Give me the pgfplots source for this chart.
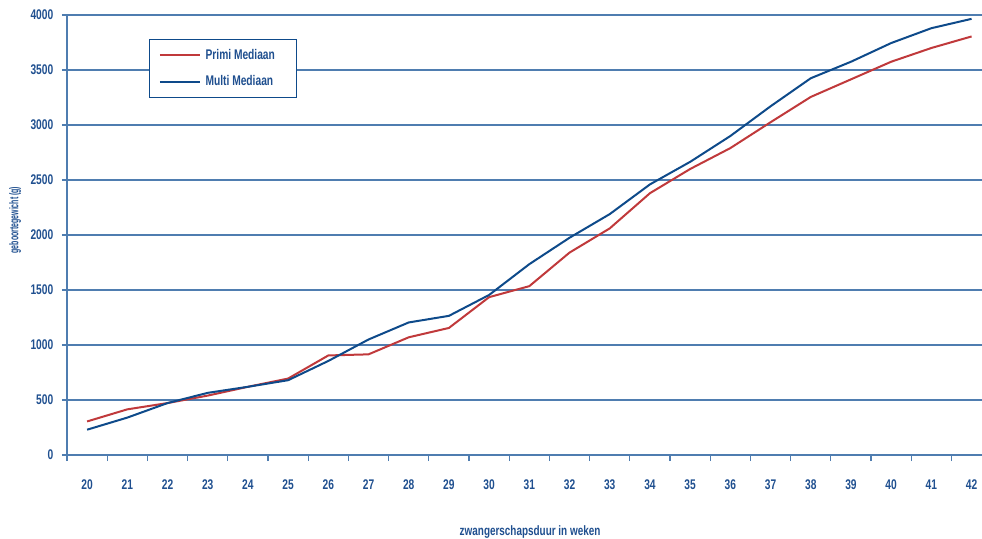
\documentclass[border=0pt]{standalone}
\usepackage{fontspec}
\setmainfont{Liberation Sans}[FakeStretch=0.73]
\newfontfamily\ylfont{Liberation Sans}[FakeStretch=0.55]
\usepackage{pgfplots}
\pgfplotsset{compat=1.18}
\definecolor{txtblue}{HTML}{1F4F8F}
\definecolor{lineblue}{HTML}{0E4A8A}
\definecolor{linered}{HTML}{C0393B}
\definecolor{gridblue}{HTML}{4F7DB0}
\begin{document}
\begin{tikzpicture}
\begin{axis}[
  at={(0,0)}, anchor=south west,
  scale only axis, width=693.5pt, height=330pt,
  xmin=19.5, xmax=42.5, ymin=0, ymax=4000,
  axis lines=left,
  axis line style={gridblue, line width=0.9pt, -},
  xtick={20,...,42},
  minor xtick={19.5,20.5,...,42.5},
  ytick={0,500,...,4000},
  tick align=outside,
  major tick length=3.75pt,
  minor tick length=4.5pt,
  major x tick style={draw=none},
  minor x tick style={gridblue, line width=0.9pt},
  major y tick style={gridblue, line width=0.9pt},
  ymajorgrids,
  major grid style={gridblue, line width=0.9pt},
  /pgf/number format/assume math mode=true,
  /pgf/number format/1000 sep={},
  ticklabel style={font=\fontsize{10.5}{12}\selectfont\bfseries, text=txtblue},
  xticklabel style={yshift=-11pt},
  yticklabel style={xshift=-3pt},
  every axis y label/.style={at={(axis description cs:-0.0562,0.534)}, rotate=90, anchor=center, font=\ylfont\fontsize{9.5}{11}\selectfont\bfseries, text=txtblue},
  every axis x label/.style={at={(axis description cs:0.5008,0)}, yshift=-57.75pt, anchor=center, font=\fontsize{10.2}{12}\selectfont\bfseries, text=txtblue},
  xlabel={zwangerschapsduur in weken},
  ylabel={geboortegewicht (g)},
  legend style={at={(axis description cs:0.0887,0.9455)}, anchor=north west,
    draw=lineblue, line width=0.9pt, fill=white,
    font=\fontsize{10.5}{12}\selectfont\bfseries, text=txtblue,
    inner xsep=7pt, inner ysep=5pt, row sep=7pt,
    nodes={inner sep=2pt}},
  legend cell align=left,
  legend image code/.code={\draw[#1] (0pt,0pt) -- (30pt,0pt);},
]
\addplot[linered, line width=1.5pt] coordinates {
(20,305) (21,415) (22,472) (23,540) (24,620) (25,695) (26,905) (27,915)
(28,1070) (29,1155) (30,1435) (31,1535) (32,1840) (33,2060) (34,2380)
(35,2600) (36,2790) (37,3025) (38,3255) (39,3415) (40,3575) (41,3700) (42,3805)};
\addlegendentry{\hspace*{1.5pt}Primi Mediaan\hspace*{7pt}}
\addplot[lineblue, line width=1.5pt] coordinates {
(20,230) (21,340) (22,472) (23,565) (24,620) (25,680) (26,855) (27,1050)
(28,1205) (29,1265) (30,1455) (31,1735) (32,1975) (33,2190) (34,2460)
(35,2665) (36,2900) (37,3170) (38,3425) (39,3575) (40,3745) (41,3880) (42,3965)};
\addlegendentry{\hspace*{1.5pt}Multi Mediaan\hspace*{7pt}}
\end{axis}
\pgfresetboundingbox
\path[use as bounding box] (-50.25pt,-63pt) rectangle (686.25pt,341.25pt);
\end{tikzpicture}
\end{document}
